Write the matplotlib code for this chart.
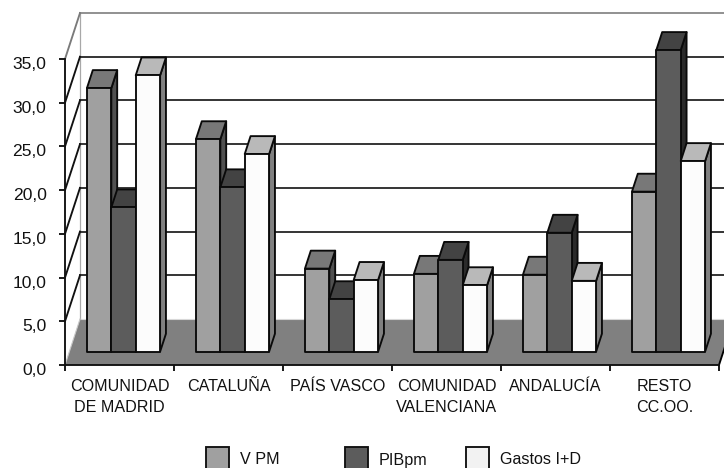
import matplotlib
matplotlib.use("Agg")
import matplotlib.pyplot as plt
from matplotlib.patches import Polygon, Rectangle
from matplotlib.transforms import ScaledTranslation

plt.rcParams['font.family'] = ['Liberation Sans', 'DejaVu Sans']

categories = ["COMUNIDAD\nDE MADRID", "CATALUÑA", "PAÍS VASCO",
              "COMUNIDAD\nVALENCIANA", "ANDALUCÍA", "RESTO\nCC.OO."]
series_names = ["V PM", "PIBpm", "Gastos I+D"]
v_pm = [30.15, 24.3, 9.5, 8.9, 8.8, 18.3]
pib_pm = [16.5, 18.8, 6.0, 10.5, 13.6, 34.5]
gastos = [31.6, 22.6, 8.2, 7.6, 8.1, 21.8]
y_ticks = [0, 5, 10, 15, 20, 25, 30, 35]
y_labels = ["0,0", "5,0", "10,0", "15,0", "20,0", "25,0", "30,0", "35,0"]

W, H = 724, 468
fig = plt.figure(figsize=(W / 100, H / 100), dpi=100, facecolor='white')
ax = fig.add_axes([65 / W, 1 - 365 / H, (719 - 65) / W, (365 - 59) / H])
ax.set_xlim(0, 6)
ax.set_ylim(0, 35)
ax.patch.set_visible(False)

DX = 15 / 109      # depth shift in category units
DY = 46 / 8.743    # depth shift in value units
LW = 1.35


def proj(x, y, d):
    return (x + d * DX, y + d * DY)


# Floor
ax.add_patch(Polygon([proj(0, 0, 0), proj(6, 0, 0), proj(6, 0, 1), proj(0, 0, 1)],
                     closed=True, fc='#808080', ec='none', zorder=1, clip_on=False))
# Floor back edge highlight and walls
ax.plot([0 + DX, 6 + DX], [DY, DY], color='#d8d8d8', lw=0.8, zorder=1.1, clip_on=False)
ax.plot([DX, DX], [DY, 35 + DY], color='#a8a8a8', lw=0.9, zorder=1.1, clip_on=False)
ax.plot([0, DX], [0, DY], color='#c8c8c8', lw=0.8, zorder=1.2, clip_on=False)

# Gridlines on back wall + left wall diagonals
for v in y_ticks[1:]:
    col = '#8c8c8c' if v == 35 else '#2c2c2c'
    ax.plot([DX, 6 + DX], [v + DY, v + DY], color=col, lw=LW, zorder=1.5, clip_on=False)
    ax.plot([0, DX], [v, v + DY], color='#7a7a7a' if v == 35 else '#111111',
            lw=LW, zorder=1.5, clip_on=False)

# Floor right slanted edge
ax.plot([6, 6 + DX], [0, DY], color='black', lw=LW, zorder=1.6, clip_on=False)

styles = [('#a0a0a0', '#787878', '#505050'),
          ('#5c5c5c', '#434343', '#2a2a2a'),
          ('#fcfcfc', '#b9b9b9', '#808080')]
BAR_W = 0.2237
START = 0.1615
D0, D1 = 0.29, 0.68

for s, vals in enumerate([v_pm, pib_pm, gastos]):
    front, top, side = styles[s]
    for i, v in enumerate(vals):
        x0 = i + START + s * BAR_W
        x1 = x0 + BAR_W
        kw = dict(closed=True, ec='#0a0a0a', lw=LW, joinstyle='round',
                  zorder=3 + s * 0.1 + i, clip_on=False)
        ax.add_patch(Polygon([proj(x1, 0, D0), proj(x1, 0, D1), proj(x1, v, D1), proj(x1, v, D0)],
                             fc=side, **kw))
        ax.add_patch(Polygon([proj(x0, v, D0), proj(x1, v, D0), proj(x1, v, D1), proj(x0, v, D1)],
                             fc=top, **kw))
        ax.add_patch(Polygon([proj(x0, 0, D0), proj(x1, 0, D0), proj(x1, v, D0), proj(x0, v, D0)],
                             fc=front, **kw))

# Axes
for name in ('top', 'right'):
    ax.spines[name].set_visible(False)
for name in ('left', 'bottom'):
    ax.spines[name].set_linewidth(LW)
    ax.spines[name].set_color('#111111')
    ax.spines[name].set_zorder(20)
ax.set_yticks(y_ticks)
ax.set_yticklabels(y_labels, fontsize=12.6, color='#111111')
ax.tick_params(axis='y', length=4.3, width=LW, pad=9, color='#111111')
shift = ScaledTranslation(0, -4 / 100, fig.dpi_scale_trans)
for lab in ax.get_yticklabels():
    lab.set_transform(lab.get_transform() + shift)
ax.set_xticks(range(7))
ax.set_xticklabels([])
ax.tick_params(axis='x', which='major', length=4, width=LW, color='#111111')
ax.set_xticks([i + 0.5 for i in range(6)], minor=True)
ax.set_xticklabels(categories, minor=True, fontsize=11.6, color='#111111', linespacing=1.55)
ax.tick_params(axis='x', which='minor', length=0, pad=10)

# Legend
leg_x = [205.5, 344.5, 465.7]
txt_x = [240, 379, 500]
leg_cols = [styles[0][0], styles[1][0], '#f2f2f2']
for xb, xt, col, name in zip(leg_x, txt_x, leg_cols, series_names):
    fig.add_artist(Rectangle((xb / W, 1 - 470 / H), 23.5 / W, 23 / H, transform=fig.transFigure,
                             fc=col, ec='#111111', lw=LW))
    fig.text(xt / W, 1 - 460 / H, name, fontsize=11.6, color='#111111', va='center', ha='left')

fig.savefig('out.png', dpi=100)
